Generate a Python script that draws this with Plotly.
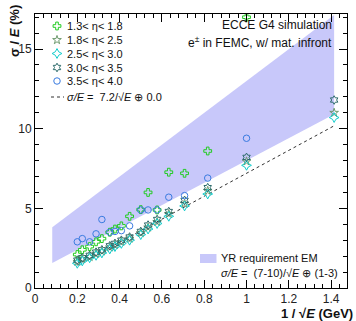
import plotly.graph_objects as go

# ---------------- data ----------------
energies = [0.5, 1, 1.5, 2, 2.5, 3, 3.5, 4, 5, 6, 7, 8, 10, 12, 15, 20, 25]
x_vals = [1 / e ** 0.5 for e in energies]

series_names = ["1.3< η< 1.8", "1.8< η< 2.5", "2.5< η< 3.0", "3.0< η< 3.5", "3.5< η< 4.0"]
res_eta_13_18 = [None, 17.0, 8.6, 7.2, 7.27, 4.9, 6.0, 4.92, 4.5, 3.9, 3.7, 3.5, 3.1, 2.9, 2.6, 2.4, 2.1]
res_eta_18_25 = [11.0, 7.95, 6.1, 5.3, 4.65, 4.15, 3.8, 3.45, 3.1, 2.9, 2.7, 2.55, 2.3, 2.15, 1.95, 1.8, 1.65]
res_eta_25_30 = [10.7, 7.7, 5.9, 5.15, 4.5, 4.05, 3.7, 3.35, 3.0, 2.8, 2.6, 2.45, 2.2, 2.05, 1.9, 1.7, 1.55]
res_eta_30_35 = [11.8, 8.2, 6.3, 5.5, 4.8, 4.3, 3.95, 3.55, 3.2, 3.0, 2.8, 2.65, 2.4, 2.25, 2.05, 1.9, 1.75]
res_eta_35_40 = [None, 9.4, 6.9, 5.8, 5.7, 4.9, 4.9, 4.9, 3.9, 3.6, 3.55, 3.5, 4.3, 3.4, 2.9, 3.1, 2.9]

fit_stochastic = 7.2   # %
fit_constant = 0.0     # %

# YR requirement band: (7-10)/sqrt(E) + (1-3), E in [0.5, 150] GeV
band_energy = [150, 0.5]
band_stoch = [7, 10]
band_const = [1, 3]

x_ticks = [0, 0.2, 0.4, 0.6, 0.8, 1, 1.2, 1.4]
x_tick_text = ["0", "0.2", "0.4", "0.6", "0.8", "1", "1.2", "1.4"]
y_ticks = [0, 5, 10, 15]

# ---------------- styles ----------------
colors = ["#22cc22", "#6e9a6e", "#11cccc", "#2d6b6b", "#3a7be0"]
symbols = ["cross-open", "star-open", "star-diamond-open", "hexagram-open", "circle-open"]
sizes = [6.5, 6.5, 7, 6.5, 6.5]
all_series = [res_eta_13_18, res_eta_18_25, res_eta_25_30, res_eta_30_35, res_eta_35_40]

WIN_W, WIN_H = 356, 321
PX0, PX1, PY0, PY1 = 35, 347, 14, 288          # plot frame in window pixels
W, H = WIN_W, WIN_H
L, R, T, B = PX0, WIN_W - PX1, PY0, WIN_H - PY1
PW, PH = PX1 - PX0, PY1 - PY0

fig = go.Figure()

# band
bx_lo, bx_hi = 1 / band_energy[0] ** 0.5, 1 / band_energy[1] ** 0.5
band_x = [bx_lo, bx_hi, bx_hi, bx_lo, bx_lo]
band_y = [band_stoch[1] * bx_lo + band_const[1], band_stoch[1] * bx_hi + band_const[1],
          band_stoch[0] * bx_hi + band_const[0], band_stoch[0] * bx_lo + band_const[0],
          band_stoch[1] * bx_lo + band_const[1]]
fig.add_trace(go.Scatter(x=band_x, y=band_y, fill="toself", fillcolor="rgb(200,200,250)",
                         line=dict(width=0), mode="lines", hoverinfo="skip", showlegend=False))

# fit line
fx = [min(x_vals), max(x_vals)]
fy = [((fit_stochastic * v) ** 2 + fit_constant ** 2) ** 0.5 for v in fx]
fig.add_trace(go.Scatter(x=fx, y=fy, mode="lines", line=dict(color="#333333", width=1, dash="dot"),
                         showlegend=False))

for name, vals, c, s, sz in zip(series_names, all_series, colors, symbols, sizes):
    fig.add_trace(go.Scatter(x=x_vals, y=vals, mode="markers", name=name,
                             marker=dict(symbol=s, size=sz, color=c, line=dict(color=c, width=1)),
                             showlegend=False))

# ---------- legend drawn on a window-pixel overlay axis ----------
leg_y = [26, 40, 53.5, 67.5, 81]
for i, (name, c, s, sz) in enumerate(zip(series_names, colors, symbols, sizes)):
    fig.add_trace(go.Scatter(x=[57], y=[leg_y[i]], xaxis="x2", yaxis="y2", mode="markers",
                             marker=dict(symbol=s, size=sz, color=c, line=dict(color=c, width=1)),
                             showlegend=False, hoverinfo="skip"))
    fig.add_annotation(x=65, y=leg_y[i], xref="x2", yref="y2", text=name, showarrow=False,
                       xanchor="left", yanchor="middle", font=dict(size=11, color="#111"))
fig.add_trace(go.Scatter(x=[51, 64], y=[97, 97], xaxis="x2", yaxis="y2", mode="lines",
                         line=dict(color="#333", width=1, dash="dot"), showlegend=False, hoverinfo="skip"))
fig.add_annotation(x=65, y=97, xref="x2", yref="y2",
                   text="<i>σ/E</i> =  %.1f/√<i>E</i> ⊕ %.1f" % (fit_stochastic, fit_constant),
                   showarrow=False, xanchor="left", yanchor="middle", font=dict(size=11, color="#111"))

fig.add_annotation(x=334, y=25, xref="x2", yref="y2", text="ECCE G4 simulation", showarrow=False,
                   xanchor="right", yanchor="middle", font=dict(size=12, color="#111"))
fig.add_annotation(x=334, y=41.5, xref="x2", yref="y2", text="e<sup>±</sup> in FEMC, w/ mat. infront",
                   showarrow=False, xanchor="right", yanchor="middle", font=dict(size=12, color="#111"))

# band legend
fig.add_shape(type="rect", xref="x2", yref="y2", x0=200, x1=216.5, y0=254, y1=263,
              fillcolor="rgb(200,200,250)", line=dict(width=0))
fig.add_annotation(x=219, y=258, xref="x2", yref="y2", text="YR requirement EM", showarrow=False,
                   xanchor="left", yanchor="middle", font=dict(size=11, color="#111"))
fig.add_annotation(x=219, y=272.5, xref="x2", yref="y2",
                   text="<i>σ/E</i> =  (7-10)/√<i>E</i> ⊕ (1-3)", showarrow=False,
                   xanchor="left", yanchor="middle", font=dict(size=11, color="#111"))

# axis titles (paper coords from window pixels)
fig.add_annotation(x=(14 - PX0) / PW, y=(PY1 - 3) / PH, xref="paper", yref="paper",
                   text="<b>σ / <i>E</i> (%)</b>", textangle=-90, showarrow=False,
                   xanchor="center", yanchor="top", font=dict(size=13, color="#111"))
fig.add_annotation(x=(355 - PX0) / PW, y=(PY1 - 313) / PH, xref="paper", yref="paper",
                   text="<b>1 / √<i>E</i> (GeV)</b>", showarrow=False,
                   xanchor="right", yanchor="middle", font=dict(size=13, color="#111"))

axis_common = dict(showgrid=False, zeroline=False, showline=True, linecolor="black", linewidth=1,
                   mirror="ticks", ticks="inside", ticklen=8, tickcolor="black", automargin=False,
                   tickfont=dict(size=12, color="#222", family="Liberation Sans, Arial"))

fig.update_layout(
    width=W, height=H,
    margin=dict(l=L, r=R, t=T, b=B, autoexpand=False),
    paper_bgcolor="white", plot_bgcolor="white",
    font=dict(family="Liberation Sans, Arial, sans-serif"),
    xaxis=dict(range=[0, 1.475], tickvals=x_ticks, ticktext=x_tick_text,
               minor=dict(dtick=0.04, tick0=0, ticklen=4, ticks="inside", tickcolor="black"), **axis_common),
    yaxis=dict(range=[0, 17.2], tickvals=y_ticks,
               minor=dict(dtick=1, tick0=0, ticklen=4, ticks="inside", tickcolor="black"), **axis_common),
    xaxis2=dict(overlaying="x", range=[PX0, PX1], visible=False, fixedrange=True),
    yaxis2=dict(overlaying="y", range=[PY1, PY0], visible=False, fixedrange=True),
    showlegend=False,
    hovermode=False,
)

fig.write_html("out.html", config={"displayModeBar": False, "staticPlot": True},
               post_script="document.body.style.margin='0';document.body.style.overflow='hidden';")
